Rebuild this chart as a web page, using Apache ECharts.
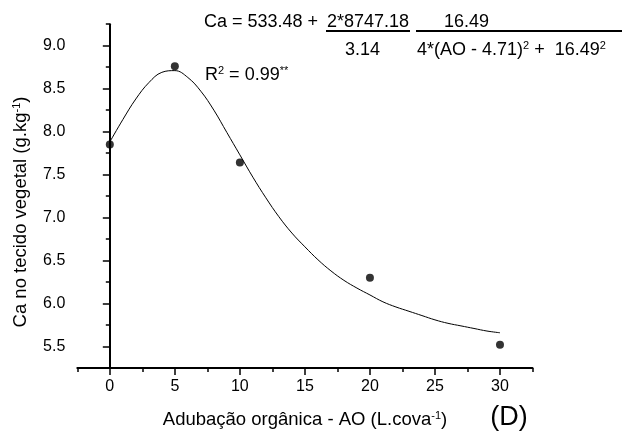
<!DOCTYPE html>
<html>
<head>
<meta charset="utf-8">
<script src="https://cdn.jsdelivr.net/npm/echarts@6/dist/echarts.min.js"></script>
<style>
  html, body { margin: 0; padding: 0; background: #fff; }
  #chart { width: 622px; height: 434px; }
</style>
</head>
<body>
<div id="chart"></div>
<script>
// Measured calcium content for each organic fertilizer dose
const aoDoses = [0, 5, 10, 20, 30];
const caMeasured = [7.85, 8.76, 7.64, 6.30, 5.52];

// Fitted response curve (Lorentz model) sampled along the dose range
const fitDoses = [0, 1, 2, 3, 4, 5, 6, 7, 8, 9, 10, 11, 12, 13, 14, 15,
                  16, 17, 18, 19, 20, 21, 22, 23, 24, 25, 26, 27, 28, 29, 30];
const fitCa = [7.88, 8.14, 8.38, 8.57, 8.69, 8.71, 8.63, 8.47, 8.25, 7.99, 7.73,
               7.47, 7.23, 7.01, 6.82, 6.66, 6.51, 6.38, 6.27, 6.18, 6.10,
               6.02, 5.96, 5.91, 5.86, 5.81, 5.77, 5.74, 5.71, 5.68, 5.66];

// Axis ticks
const xTickValues = [0, 5, 10, 15, 20, 25, 30];
const yTickValues = [5.5, 6.0, 6.5, 7.0, 7.5, 8.0, 8.5, 9.0];

const FONT = 'Liberation Sans, Arial, sans-serif';
const INK = '#000';

const chart = echarts.init(document.getElementById('chart'), null, { renderer: 'canvas' });

const axisLineStyle = { show: true, lineStyle: { color: INK, width: 2 } };

const supRich = {
  sup: { fontSize: 11, fontFamily: FONT, color: INK, verticalAlign: 'top', lineHeight: 10 }
};

function textEl(x, y, text, size, align, rotation) {
  return {
    type: 'text',
    x: x, y: y,
    rotation: rotation || 0,
    style: {
      text: text,
      fontSize: size,
      fontFamily: FONT,
      fill: INK,
      align: align || 'left',
      verticalAlign: 'middle',
      lineHeight: 20,
      rich: supRich
    },
    silent: true
  };
}

function lineEl(x1, x2, y) {
  return {
    type: 'line',
    shape: { x1: x1, y1: y, x2: x2, y2: y },
    style: { stroke: INK, lineWidth: 2 },
    silent: true
  };
}

const option = {
  animation: false,
  backgroundColor: '#fff',
  grid: {
    left: 77.3, right: 89.5, top: 24.2, bottom: 66,
    containLabel: false,
    outerBoundsMode: 'none'
  },
  xAxis: [
    {
      type: 'value', min: -2.5, max: 32.5, position: 'bottom',
      axisLine: axisLineStyle,
      axisTick: { show: true, length: 7, customValues: xTickValues, lineStyle: { color: INK, width: 1.5 } },
      axisLabel: { show: true, customValues: xTickValues, margin: 11, fontSize: 16, fontFamily: FONT, color: INK },
      splitLine: { show: false }
    },
    {
      type: 'value', min: -2.5, max: 32.5, interval: 2.5, position: 'bottom', gridIndex: 0,
      axisLine: { show: false },
      axisTick: { show: true, length: 4, lineStyle: { color: INK, width: 1.5 } },
      axisLabel: { show: false },
      splitLine: { show: false }
    }
  ],
  yAxis: [
    {
      type: 'value', min: 5.25, max: 9.25, position: 'left',
      axisLine: axisLineStyle,
      axisTick: { show: true, length: 7, customValues: yTickValues, lineStyle: { color: INK, width: 1.5 } },
      axisLabel: {
        show: true, customValues: yTickValues, margin: 12, fontSize: 16, fontFamily: FONT, color: INK,
        formatter: v => Number(v).toFixed(1)
      },
      splitLine: { show: false }
    },
    {
      type: 'value', min: 5.25, max: 9.25, interval: 0.25, position: 'left', gridIndex: 0,
      axisLine: { show: false },
      axisTick: { show: true, length: 4, lineStyle: { color: INK, width: 1.5 } },
      axisLabel: { show: false },
      splitLine: { show: false }
    }
  ],
  series: [
    {
      type: 'line',
      xAxisIndex: 0, yAxisIndex: 0,
      data: fitDoses.map((d, i) => [d, fitCa[i]]),
      smooth: 0.4,
      showSymbol: false,
      lineStyle: { color: INK, width: 1 },
      z: 2
    },
    {
      type: 'scatter',
      xAxisIndex: 0, yAxisIndex: 0,
      data: aoDoses.map((d, i) => [d, caMeasured[i]]),
      symbol: 'circle',
      symbolSize: 8,
      itemStyle: { color: INK },
      z: 3
    }
  ],
  graphic: [
    // Regression equation
    textEl(204, 22, 'Ca = 533.48 + ', 18, 'left'),
    textEl(368, 22, '2*8747.18', 18, 'center'),
    lineEl(326, 410, 31),
    textEl(466.5, 22, '16.49', 18, 'center'),
    lineEl(416, 622, 31),
    textEl(362.5, 50, '3.14', 18, 'center'),
    textEl(417, 50, '4*(AO - 4.71){sup|2} +  16.49{sup|2}', 18, 'left'),
    textEl(205, 75, 'R{sup|2} = 0.99{sup|**}', 18, 'left'),
    // Axis titles
    textEl(305, 420, 'Adubação orgânica - AO (L.cova{sup|-1})', 18.5, 'center'),
    textEl(21, 212, 'Ca no tecido vegetal (g.kg{sup|-1})', 18.5, 'center', Math.PI / 2),
    // Panel tag
    textEl(509, 418, '(D)', 27, 'center')
  ]
};

chart.setOption(option);
</script>
</body>
</html>
